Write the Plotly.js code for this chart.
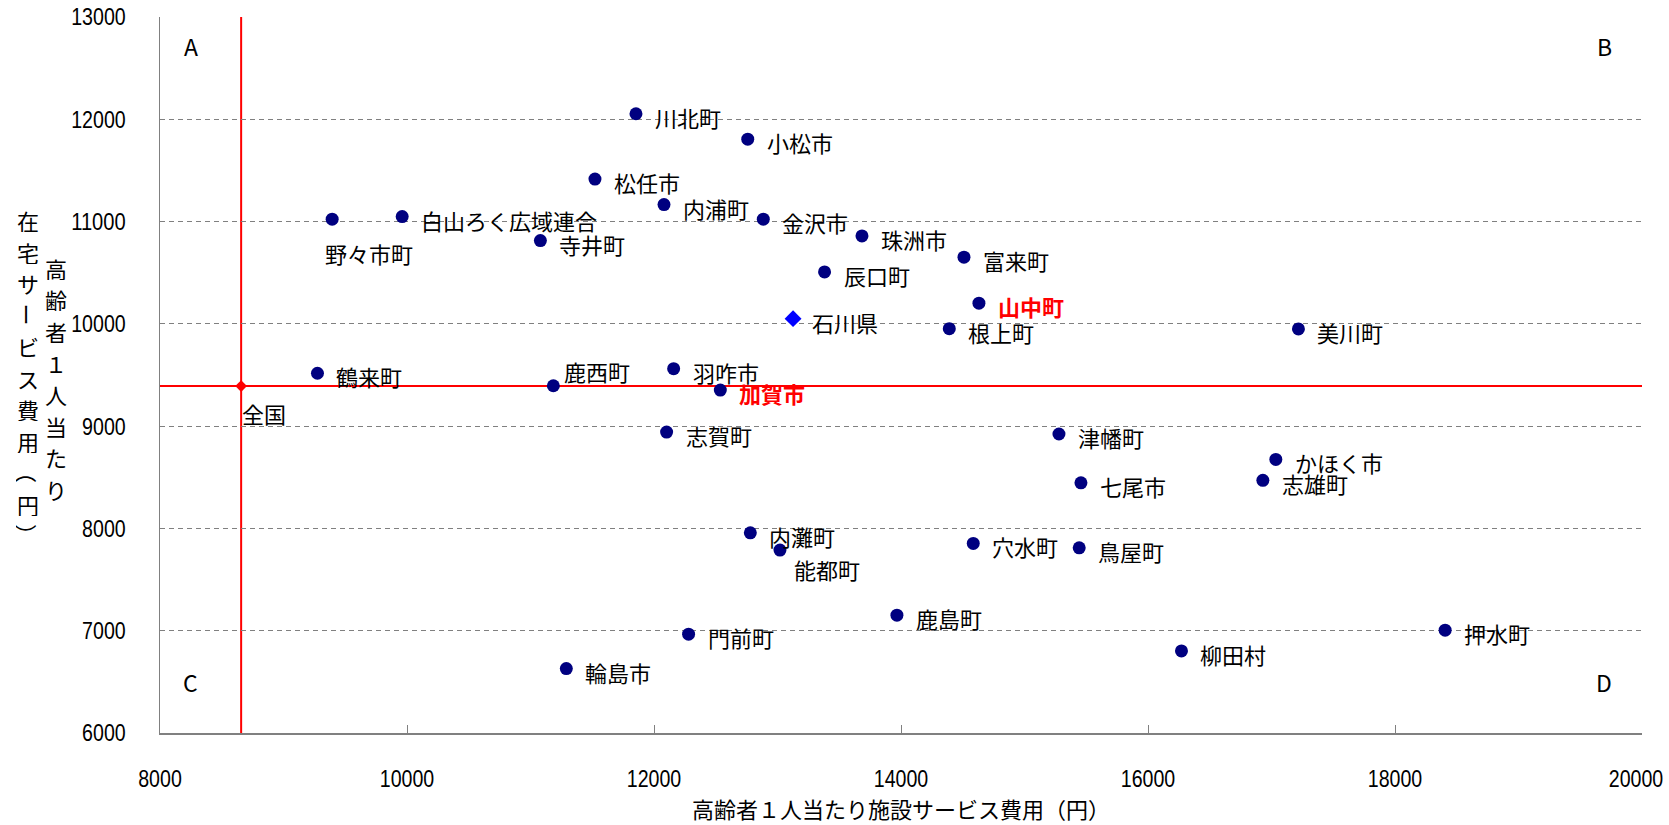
<!DOCTYPE html>
<html>
<head>
<meta charset="utf-8">
<script src="https://cdn.plot.ly/plotly-3.0.1.min.js"></script>
<style>
  html, body { margin: 0; padding: 0; background: #fff; }
  #chart { width: 1669px; height: 825px; }
</style>
</head>
<body>
<div id="chart"></div>
<script>
// 市町村別 高齢者1人当たり費用（施設サービス × 在宅サービス）
const municipalities = [
  '川北町', '小松市', '松任市', '内浦町', '白山ろく広域連合', '野々市町', '寺井町', '金沢市',
  '珠洲市', '辰口町', '富来町', '山中町', '根上町', '美川町', '鶴来町', '鹿西町',
  '羽咋市', '加賀市', '志賀町', '津幡町', '七尾市', 'かほく市', '志雄町', '内灘町',
  '能都町', '穴水町', '鳥屋町', '鹿島町', '門前町', '輪島市', '柳田村', '押水町'
];
// 高齢者1人当たり施設サービス費用（円）
const facilityCost = [
  11854, 12759, 11522, 12081, 9961, 9394, 11080, 12885,
  13684, 13381, 14510, 14631, 14391, 17218, 9275, 11185,
  12159, 12537, 12102, 15279, 15457, 17035, 16930, 12780,
  13020, 14585, 15443, 13967, 12280, 11290, 16271, 18406
];
// 高齢者1人当たり在宅サービス費用（円）
const homeCareCost = [
  12054, 11806, 11415, 11166, 11049, 11023, 10814, 11023,
  10860, 10508, 10652, 10202, 9953, 9950, 9517, 9395,
  9562, 9353, 8942, 8923, 8446, 8675, 8470, 7957,
  7788, 7853, 7810, 7152, 6966, 6630, 6802, 7005
];

const prefectureName = '石川県';
const prefectureFacility = 13126;
const prefectureHomeCare = 10051;

const nationalName = '全国';
const nationalFacility = 8657;
const nationalHomeCare = 9392;

const emphasized = ['加賀市', '山中町'];
const quadrantNames = ['A', 'B', 'C', 'D'];

const xTickValues = [8000, 10000, 12000, 14000, 16000, 18000, 20000];
const yTickValues = [6000, 7000, 8000, 9000, 10000, 11000, 12000, 13000];

const xTitleText = '高齢者１人当たり施設サービス費用（円）';
const yTitleColumns = ['高齢者１人当たり', '在宅サービス費用（円）'];

// ---- styling ----
const NAVY = '#000080';
const JP_FONT = '"Noto Sans CJK JP", "Noto Sans", sans-serif';
const NUM_FONT = '"Liberation Sans", Arial, sans-serif';
const numFont = { family: NUM_FONT, size: 24, color: '#000000' };
const DIGIT_WIDTH = 10.9;   // narrow numerals on both axes

// label placement relative to its marker, in px: [right, up]
const defaultNudge = [17, -3];
const labelNudge = {
  '野々市町': [-9, -34],
  '全国': [-1, -27],
  '鹿西町': [9, 15],
  '能都町': [12, -19]
};

const traces = [
  {
    type: 'scatter', mode: 'markers',
    x: facilityCost, y: homeCareCost, text: municipalities,
    marker: { color: NAVY, size: 13, symbol: 'circle' },
    hoverinfo: 'text+x+y', cliponaxis: false
  },
  {
    type: 'scatter', mode: 'markers',
    x: [prefectureFacility], y: [prefectureHomeCare], text: [prefectureName],
    marker: { color: '#0000FF', size: 13, symbol: 'diamond' },
    hoverinfo: 'text+x+y'
  },
  {
    type: 'scatter', mode: 'markers',
    x: [nationalFacility], y: [nationalHomeCare], text: [nationalName],
    marker: { color: '#FF0000', size: 9, symbol: 'diamond' },
    hoverinfo: 'text+x+y', cliponaxis: false
  }
];

const annotations = [];

function addPointLabel(name, x, y) {
  const nudge = labelNudge[name] || defaultNudge;
  const strong = emphasized.includes(name);
  annotations.push({
    x: x, y: y, xref: 'x', yref: 'y',
    text: strong ? '<b>' + name + '</b>' : name,
    showarrow: false, xanchor: 'left', yanchor: 'middle',
    xshift: nudge[0], yshift: nudge[1],
    font: { family: JP_FONT, size: 22, color: strong ? '#FF0000' : '#000000' }
  });
}
municipalities.forEach((n, i) => addPointLabel(n, facilityCost[i], homeCareCost[i]));
addPointLabel(prefectureName, prefectureFacility, prefectureHomeCare);
addPointLabel(nationalName, nationalFacility, nationalHomeCare);

// quadrant letters in the four corners
const cornerSpots = [[0.0206, 0.960], [0.9744, 0.960], [0.0206, 0.071], [0.9744, 0.071]];
quadrantNames.forEach((q, i) => {
  annotations.push({
    x: cornerSpots[i][0], y: cornerSpots[i][1], xref: 'paper', yref: 'paper',
    text: q, showarrow: false, xanchor: 'center', yanchor: 'middle',
    font: { family: JP_FONT, size: 23, color: '#000000' }
  });
});

// vertical (tategaki) y-axis title: two columns, read right column first
const plotTop = 17, plotHeight = 716;
const columnSpecs = [
  { text: yTitleColumns[0], xShift: 56 - 160, firstCenter: 268 },
  { text: yTitleColumns[1], xShift: 28 - 160, firstCenter: 220 }
];
const rotatedInVertical = new Set(['ー', '（', '）']);
columnSpecs.forEach(col => {
  Array.from(col.text).forEach((ch, k) => {
    const cy = col.firstCenter + k * 31.5;
    annotations.push({
      x: 0, y: 1 - (cy - plotTop) / plotHeight, xref: 'paper', yref: 'paper',
      xshift: col.xShift, text: ch, showarrow: false,
      xanchor: 'center', yanchor: 'middle',
      width: 24, height: 24, borderpad: 0,
      textangle: rotatedInVertical.has(ch) ? 90 : 0,
      font: { family: JP_FONT, size: 22, color: '#000000' }
    });
  });
});

const layout = {
  width: 1669, height: 825,
  margin: { l: 160, r: 27, t: 17, b: 92 },
  paper_bgcolor: '#ffffff', plot_bgcolor: '#ffffff',
  showlegend: false,
  xaxis: {
    range: [8000, 20000], tickvals: xTickValues, ticktext: xTickValues.map(String),
    showgrid: false, zeroline: false,
    showline: true, linecolor: '#808080', linewidth: 1.5,
    ticks: 'inside', ticklen: 8, tickcolor: '#808080', tickwidth: 1,
    ticklabelstandoff: 24, ticklabeloverflow: 'allow',
    tickfont: numFont,
    title: { text: xTitleText, standoff: 6, font: { family: JP_FONT, size: 22, color: '#000000' } },
    automargin: false
  },
  yaxis: {
    range: [6000, 13000], tickvals: yTickValues, ticktext: yTickValues.map(String),
    showgrid: true, gridcolor: '#808080', gridwidth: 1, griddash: '5px,4px',
    zeroline: false,
    showline: true, linecolor: '#808080', linewidth: 1.5,
    ticks: '', ticklabelstandoff: 28,
    tickfont: numFont,
    automargin: false
  },
  shapes: [
    {
      type: 'line', layer: 'between', xref: 'x', yref: 'paper',
      x0: nationalFacility, x1: nationalFacility, y0: 0, y1: 1,
      line: { color: '#FF0000', width: 2 }
    },
    {
      type: 'line', layer: 'between', xref: 'paper', yref: 'y',
      x0: 0, x1: 1, y0: nationalHomeCare, y1: nationalHomeCare,
      line: { color: '#FF0000', width: 2 }
    }
  ],
  annotations: annotations
};

Plotly.newPlot('chart', traces, layout, { displayModeBar: false, staticPlot: true }).then(gd => {
  // condense the numeric tick labels and keep the last x label inside the page
  const xLabels = gd.querySelectorAll('.xtick text');
  gd.querySelectorAll('.xtick text, .ytick text').forEach(t => {
    const n = t.textContent.length;
    t.setAttribute('textLength', (n * DIGIT_WIDTH).toFixed(1));
    t.setAttribute('lengthAdjust', 'spacingAndGlyphs');
  });
  if (xLabels.length) xLabels[xLabels.length - 1].setAttribute('dx', '-6');
});
</script>
</body>
</html>
